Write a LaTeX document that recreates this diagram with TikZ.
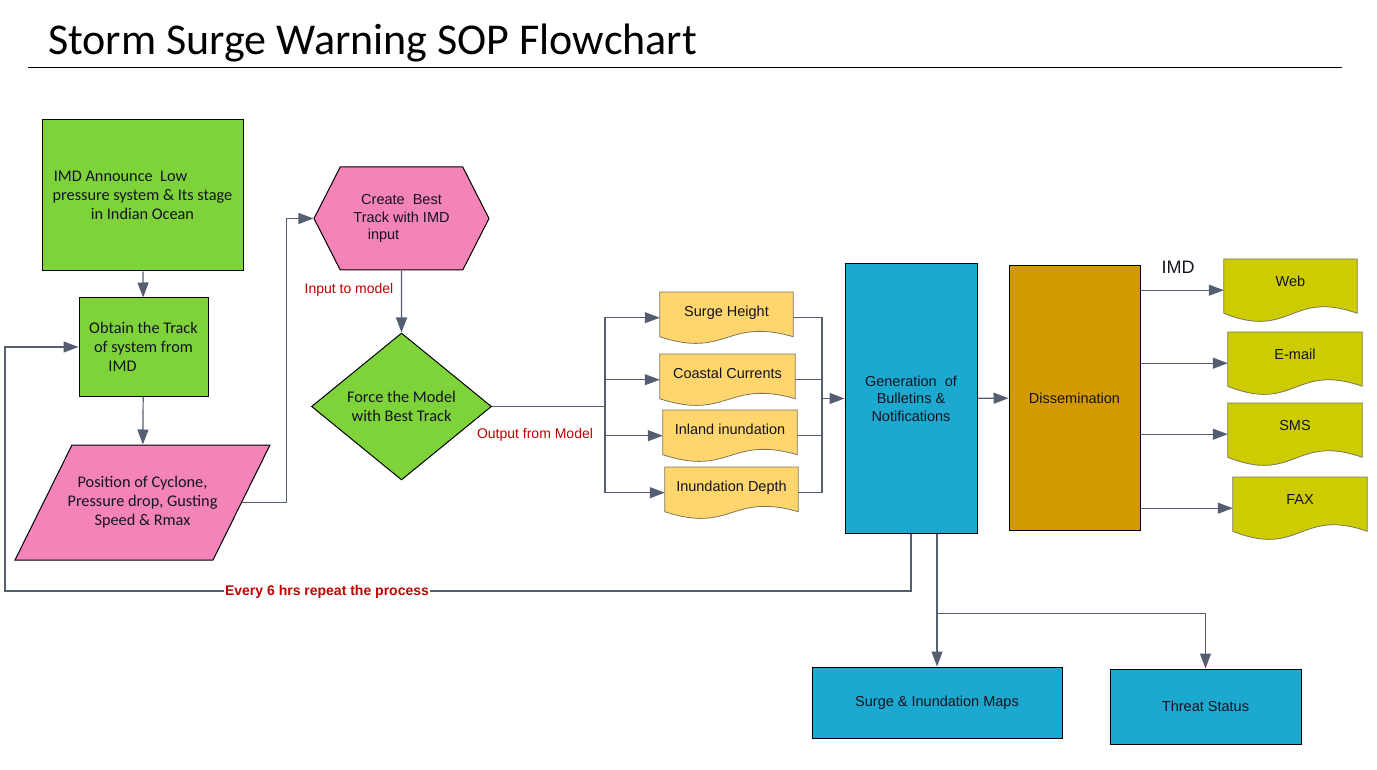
\documentclass[tikz,border=0pt]{standalone}
\usepackage{fontspec}
\setmainfont{Carlito}
\newfontfamily\arialfont{Liberation Sans}
\usetikzlibrary{arrows.meta,shapes.geometric,shapes.symbols,backgrounds,calc}

\definecolor{boxgreen}{RGB}{126,211,59}
\definecolor{boxpink}{RGB}{243,131,184}
\definecolor{boxblue}{RGB}{28,168,207}
\definecolor{boxgold}{RGB}{211,154,0}
\definecolor{docorange}{RGB}{255,213,110}
\definecolor{docolive}{RGB}{204,204,0}
\definecolor{docedge}{RGB}{125,118,90}
\definecolor{linegray}{RGB}{84,94,112}
\definecolor{labelred}{RGB}{192,0,0}
\definecolor{textdark}{RGB}{20,20,32}

\tikzset{
  link/.style={draw=linegray, line width=1.2pt},
  flow/.style={link, -{Triangle[length=15pt,width=11pt]}},
  box/.style={draw=black, line width=1pt, inner sep=0pt, align=center, text=textdark},
  calibri/.style={font=\fontsize{16.3}{19}\selectfont},
  arial/.style={font=\arialfont\fontsize{14.5}{17.5}\selectfont},
  greenbox/.style={box, calibri, fill=boxgreen},
  pinkbox/.style={box, fill=boxpink},
  bluebox/.style={box, arial, fill=boxblue},
  doc/.style={anchor=north, inner sep=0pt, minimum width=133pt, text=textdark, arial},
  orangedoc/.style={doc, text height=24pt, text depth=27pt},
  olivedoc/.style={doc, text height=27pt, text depth=35pt},
  redlabel/.style={text=labelred, inner sep=1pt, font=\arialfont\fontsize{14}{16}\selectfont},
}

\begin{document}
\begin{tikzpicture}[x=1pt, y=-1pt]
  \useasboundingbox (0,0) rectangle (1377,770);

  % title and rule
  \node[anchor=base west, inner sep=0pt, font=\fontsize{44}{50}\selectfont] (title) at (48,55) {Storm Surge Warning SOP Flowchart};
  \draw[black, line width=0.9pt] (28,67) -- (1342,67);

  % left column
  \node[greenbox, minimum width=201pt, minimum height=151pt] (announce) at (142.5,195.5)
    {IMD Announce\ \ Low\hspace*{44pt}\\pressure system \& Its stage\\in Indian Ocean};
  \node[greenbox, minimum width=129pt, minimum height=98pt] (track) at (143.5,347)
    {Obtain the Track\\of system from\\IMD\hspace*{42pt}};
  \node[box, draw=none, calibri, minimum width=198pt, minimum height=115pt] (pos) at (142.5,502.5)
    {Position of Cyclone,\\Pressure drop, Gusting\\Speed \& Rmax};
  \coordinate (posE) at (241.5,502.5);

  % model
  \node[pinkbox, arial, signal, signal to=west and east, signal pointer angle=126,
        minimum width=175pt, minimum height=103pt] (best) at (401.5,218.5)
    {Create\ \ Best\\Track with IMD\\input\hspace*{36pt}};
  \node[greenbox, diamond, minimum width=180pt, minimum height=147pt] (force) at (401.5,406.5)
    {Force the Model\\with Best Track};

  % model outputs
  \foreach \name/\x/\y/\w/\txt in {surge/726.5/292/133/Surge Height, coast/727.5/354/135/Coastal Currents,
      inland/730/410/134/Inland inundation, depth/731.5/467/133/Inundation Depth}
    \node[orangedoc, minimum width=\w] (\name) at (\x,\y) {\txt};

  % bulletins
  \node[bluebox, minimum width=132pt, minimum height=269pt] (gen) at (911,398.5)
    {Generation\ \ of\\Bulletins \&\\Notifications};
  \node[box, arial, fill=boxgold, minimum width=131pt, minimum height=264pt] (dis) at (1074.5,398) {Dissemination};
  \node[font=\arialfont\fontsize{18}{20}\selectfont, text=textdark] (imd) at (1178,267) {IMD};

  \foreach \name/\x/\y/\w/\txt in {web/1290.5/259/133/Web, email/1295/332/134/E-mail,
      sms/1295/403/134/SMS, fax/1300/477/134/FAX}
    \node[olivedoc, minimum width=\w] (\name) at (\x,\y) {\txt};

  \node[bluebox, minimum width=250pt, minimum height=71pt] (maps) at (937,702.5) {Surge \& Inundation Maps};
  \node[bluebox, minimum width=191pt, minimum height=75pt] (threat) at (1205.5,706.5) {Threat Status};

  % parallelogram and document outlines
  \begin{scope}[on background layer]
    \draw[fill=boxpink, line width=1pt] (72,445) -- (270,445) -- (213,560) -- (15,560) -- cycle;
    \foreach \name/\col in {surge/docorange, coast/docorange, inland/docorange, depth/docorange,
        web/docolive, email/docolive, sms/docolive, fax/docolive}
      \draw[fill=\col, draw=docedge, line width=0.8pt]
        let \p1=(\name.north west), \p2=(\name.south east) in
        (\x1,\y1) -- (\x2,\y1) -- (\x2,{\y1+0.87*(\y2-\y1)})
        .. controls ({0.5*(\x1+\x2)},{\y1+0.49*(\y2-\y1)}) and ({0.5*(\x1+\x2)},{\y1+1.3*(\y2-\y1)})
        .. (\x1,{\y1+0.87*(\y2-\y1)}) -- cycle;
  \end{scope}

  % connectors
  \draw[flow] (announce) -- (track);
  \draw[flow] (track) -- (pos);
  \draw[flow] (posE) -- ($(posE -| best.west)+(-27,0)$) |- (best.west);
  \draw[flow] (best) -- (force);
  \node[redlabel] (inlbl) at (349,290) {Input to model};

  \coordinate (busL) at (605,406.5);
  \draw[link] (force.east) -- (busL);
  \foreach \d in {surge,coast,inland,depth}
    \draw[flow] (busL) |- (\d.west);
  \node[redlabel] (outlbl) at (535,435) {Output from Model};

  \coordinate (busR) at (822,398.5);
  \foreach \d in {surge,coast,inland,depth}
    \draw[link] (\d.east) -| (busR);
  \draw[flow] (busR) -- (gen.west);
  \draw[flow] (gen) -- (dis);

  \foreach \d in {web,email,sms,fax}
    \draw[flow] (dis.east |- \d.west) -- (\d.west);

  % repeat loop
  \coordinate (loop) at (5,591);
  \draw[flow] (gen.south) |- (loop) |- (track.west);
  \node[redlabel, fill=white, font=\arialfont\bfseries\fontsize{14}{16}\selectfont] (rep) at (327,591.5) {Every 6 hrs repeat the process};

  % products
  \draw[flow] (maps.north |- gen.south) -- (maps.north);
  \draw[flow] (maps.north |- gen.south) -- ++(0,80) -| (threat.north);
\end{tikzpicture}
\end{document}
